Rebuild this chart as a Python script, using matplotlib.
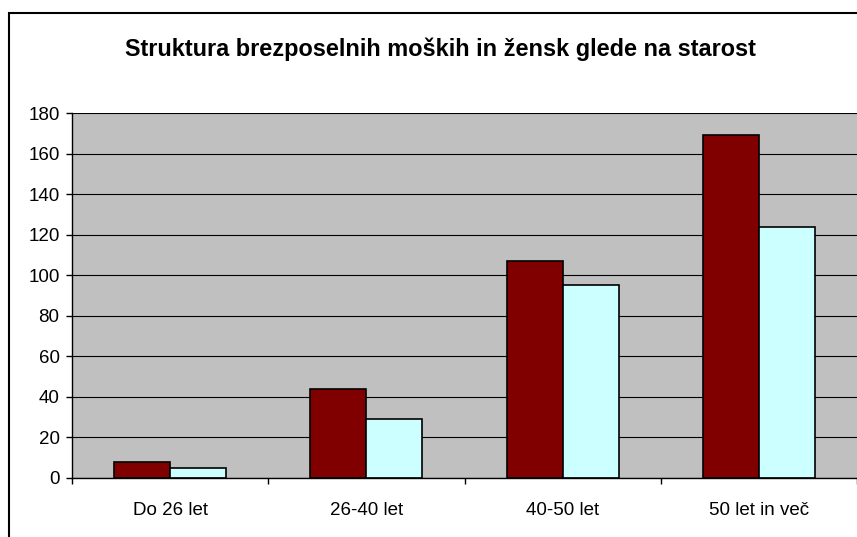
import matplotlib.pyplot as plt
from matplotlib.patches import Rectangle
import numpy as np

plt.rcParams['font.family'] = ['Liberation Sans', 'DejaVu Sans']

categories = ["Do 26 let", "26-40 let", "40-50 let", "50 let in več"]
moski = [8, 44, 107, 169]
zenske = [5, 29, 95, 124]
yticks = [0, 20, 40, 60, 80, 100, 120, 140, 160, 180]

fig = plt.figure(figsize=(8.57, 5.37), dpi=100)
fig.patches.append(Rectangle((9 / 857, -0.05), 1.2, 1 - 13 / 537 + 0.05,
                             transform=fig.transFigure, fill=False,
                             edgecolor="black", linewidth=1.5))

ax = fig.add_axes([72 / 857, 1 - 478 / 537, 1 - 72 / 857, 365 / 537])
ax.set_facecolor("#C0C0C0")

x = np.arange(len(categories))
w = 1 / 3.5
ax.bar(x - w / 2, moski, w, color="#800000", edgecolor="black", linewidth=1.2, zorder=3)
ax.bar(x + w / 2, zenske, w, color="#CCFFFF", edgecolor="black", linewidth=1.2, zorder=3)

ax.set_xlim(-0.5, 3.5)
ax.set_ylim(0, 180)
ax.set_yticks(yticks)
ax.yaxis.grid(True, color="black", linewidth=0.8, zorder=1)
ax.set_axisbelow(True)

ax.set_xticks(x)
ax.set_xticklabels(categories)
ax.set_xticks(np.arange(-0.5, 4, 1), minor=True)
ax.tick_params(axis="x", which="major", length=0, pad=17, labelsize=13.5)
ax.tick_params(axis="x", which="minor", length=4, width=1, direction="out")
ax.tick_params(axis="y", length=4, width=1, direction="out", pad=5, labelsize=13.5)

for s in ["top", "right"]:
    ax.spines[s].set_visible(False)
for s in ["left", "bottom"]:
    ax.spines[s].set_linewidth(1)
    ax.spines[s].set_zorder(4)

fig.text(440 / 857, 1 - 49 / 537, "Struktura brezposelnih moških in žensk glede na starost",
         ha="center", va="center", fontsize=16.9, fontweight="bold")

fig.savefig("out.png", dpi=100)
